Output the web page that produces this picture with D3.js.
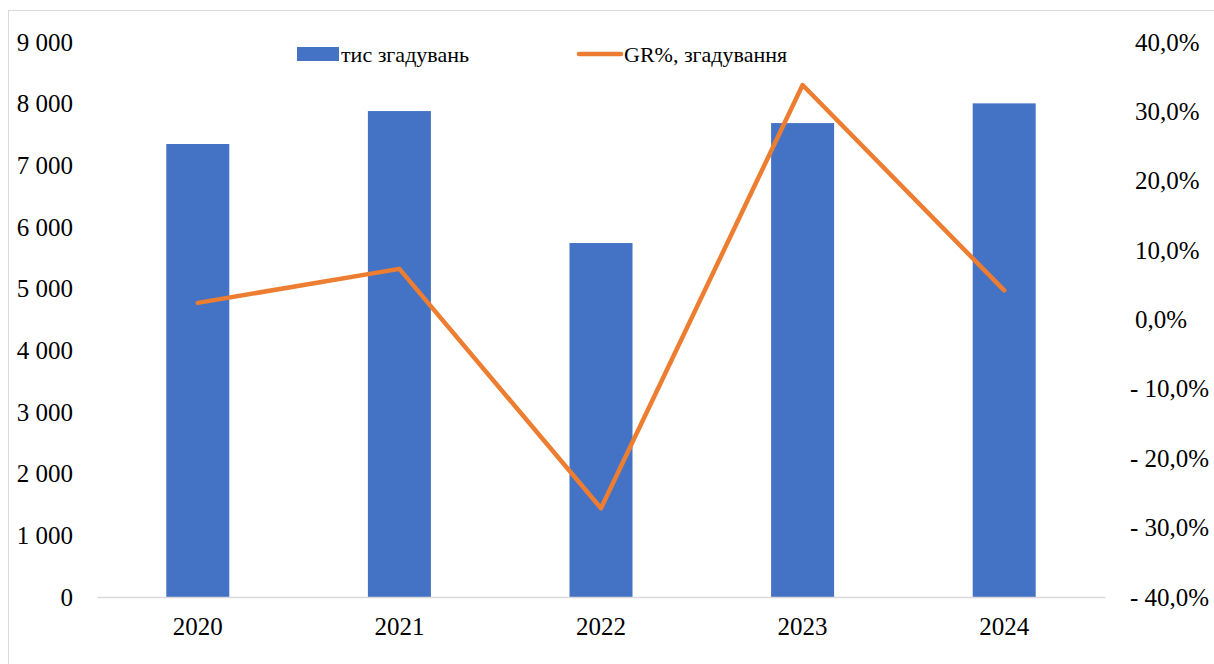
<!DOCTYPE html>
<html>
<head>
<meta charset="utf-8">
<script src="https://cdn.jsdelivr.net/npm/d3@7"></script>
<style>
  html, body { margin: 0; padding: 0; background: #fff; }
  svg { display: block; }
  text { font-family: "Liberation Serif", "Times New Roman", serif; fill: #000; }
</style>
</head>
<body>
<svg id="chart" width="1214" height="664"></svg>
<script>
// Yearly mentions (thousands) and year-over-year growth
const years = ["2020", "2021", "2022", "2023", "2024"];
const mentions = [7346, 7880, 5740, 7685, 8005];
const growthPct = [2.4, 7.3, -27.2, 33.8, 4.2];
const leftTicks = [0, 1000, 2000, 3000, 4000, 5000, 6000, 7000, 8000, 9000];
const rightTicks = [-40, -30, -20, -10, 0, 10, 20, 30, 40];
const seriesNames = ["тис згадувань", "GR%, згадування"];

const W = 1214, H = 664;
const plot = { left: 97, right: 1105, top: 42, bottom: 597 };
const barColor = "#4472C4", lineColor = "#ED7D31";
const serif = "'Liberation Serif', 'Times New Roman', serif";

const svg = d3.select("#chart");

// outer frame of the chart area
svg.append("rect")
  .attr("x", 8.5).attr("y", 10.5)
  .attr("width", W + 20).attr("height", H + 20)
  .attr("fill", "none").attr("stroke", "#d9d9d9").attr("stroke-width", 1);

const x = d3.scaleBand()
  .domain(years)
  .range([plot.left, plot.right])
  .paddingInner(0.6875)
  .paddingOuter(0.34375);

const yL = d3.scaleLinear().domain([0, 9000]).range([plot.bottom, plot.top]);
const yR = d3.scaleLinear().domain([-40, 40]).range([plot.bottom, plot.top]);

// bars
svg.append("g").selectAll("rect")
  .data(years.map((yr, i) => ({ yr, v: mentions[i] })))
  .join("rect")
  .attr("x", d => x(d.yr))
  .attr("width", x.bandwidth())
  .attr("y", d => yL(d.v))
  .attr("height", d => yL(0) - yL(d.v))
  .attr("fill", barColor);

// category axis (baseline)
const xAxis = d3.axisBottom(x).tickSize(0).tickPadding(20);
const gx = svg.append("g")
  .attr("transform", `translate(0,${plot.bottom})`)
  .call(xAxis);
gx.select(".domain").attr("stroke", "#d9d9d9").attr("stroke-width", 1.5);
gx.selectAll("text")
  .style("font-family", serif)
  .style("font-size", "25px")
  .attr("fill", "#000");

// left axis
const fmtThousands = v => d3.format(",")(v).replace(/,/g, " ");
const gl = svg.append("g")
  .attr("transform", `translate(73,0)`)
  .call(d3.axisLeft(yL).tickValues(leftTicks).tickFormat(fmtThousands).tickSize(0).tickPadding(0));
gl.select(".domain").remove();
gl.selectAll("text")
  .style("font-family", serif)
  .style("font-size", "25px")
  .attr("fill", "#000");

// right axis (growth, %)
const fmtPct = v => {
  const s = d3.format(".1f")(Math.abs(v)).replace(".", ",") + "%";
  return v < 0 ? "- " + s : s;
};
const gr = svg.append("g")
  .attr("transform", `translate(1130,0)`)
  .call(d3.axisRight(yR).tickValues(rightTicks).tickFormat(fmtPct).tickSize(0).tickPadding(0));
gr.select(".domain").remove();
gr.selectAll("text")
  .attr("x", d => d < 0 ? 0 : 5)
  .style("text-anchor", "start")
  .style("font-family", serif)
  .style("font-size", "25px")
  .attr("fill", "#000");

// growth line
const line = d3.line()
  .x((d, i) => x(years[i]) + x.bandwidth() / 2)
  .y(d => yR(d));
svg.append("path")
  .datum(growthPct)
  .attr("d", line)
  .attr("fill", "none")
  .attr("stroke", lineColor)
  .attr("stroke-width", 4.5)
  .attr("stroke-linecap", "round")
  .attr("stroke-linejoin", "round");

// legend
const lg = svg.append("g").style("font-family", serif).style("font-size", "22px");
lg.append("rect").attr("x", 297).attr("y", 47).attr("width", 42).attr("height", 14).attr("fill", barColor);
lg.append("text").attr("x", 341).attr("y", 62).text(seriesNames[0]);
lg.append("line").attr("x1", 579).attr("x2", 621).attr("y1", 54).attr("y2", 54)
  .attr("stroke", lineColor).attr("stroke-width", 4.5).attr("stroke-linecap", "round");
lg.append("text").attr("x", 624).attr("y", 62).text(seriesNames[1]);
</script>
</body>
</html>
